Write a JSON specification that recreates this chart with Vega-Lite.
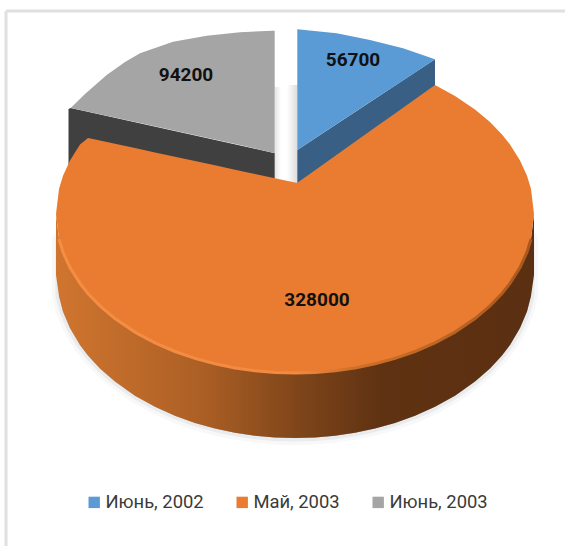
{
  "$schema": "https://vega.github.io/schema/vega-lite/v6.json",
  "width": 565,
  "height": 546,
  "padding": 0,
  "autosize": "none",
  "background": "white",
  "view": {"stroke": null},
  "datasets": {
    "topFaces": [
      {"series": "Июнь, 2003", "x": 70.7, "y": 108, "y2": 108},
      {"series": "Июнь, 2003", "x": 85, "y": 94, "y2": 111.1},
      {"series": "Июнь, 2003", "x": 106.7, "y": 75, "y2": 115.8},
      {"series": "Июнь, 2003", "x": 125, "y": 62, "y2": 119.8},
      {"series": "Июнь, 2003", "x": 140, "y": 53.3, "y2": 123.1},
      {"series": "Июнь, 2003", "x": 173, "y": 41.7, "y2": 130.3},
      {"series": "Июнь, 2003", "x": 206.7, "y": 35.7, "y2": 137.7},
      {"series": "Июнь, 2003", "x": 240, "y": 32.3, "y2": 145},
      {"series": "Июнь, 2003", "x": 272.7, "y": 30.7, "y2": 152.7},
      {"series": "Июнь, 2003", "x": 274.7, "y": 30.7, "y2": 152.7},
      {"series": "Июнь, 2002", "x": 297.3, "y": 29.3, "y2": 150},
      {"series": "Июнь, 2002", "x": 336.7, "y": 33.3, "y2": 124},
      {"series": "Июнь, 2002", "x": 370, "y": 40, "y2": 102.1},
      {"series": "Июнь, 2002", "x": 403, "y": 48.3, "y2": 80.4},
      {"series": "Июнь, 2002", "x": 435, "y": 59.3, "y2": 59.3},
      {"series": "Май, 2003", "x": 56, "y": 214, "y2": 214},
      {"series": "Май, 2003", "x": 59, "y": 188.9, "y2": 239.1},
      {"series": "Май, 2003", "x": 63, "y": 175.8, "y2": 252.2},
      {"series": "Май, 2003", "x": 70, "y": 160.4, "y2": 267.6},
      {"series": "Май, 2003", "x": 80, "y": 144.6, "y2": 283.4},
      {"series": "Май, 2003", "x": 88, "y": 138, "y2": 293.5},
      {"series": "Май, 2003", "x": 100, "y": 140.6, "y2": 305.9},
      {"series": "Май, 2003", "x": 115, "y": 143.8, "y2": 318.6},
      {"series": "Май, 2003", "x": 135, "y": 148.1, "y2": 332.1},
      {"series": "Май, 2003", "x": 155, "y": 152.4, "y2": 342.9},
      {"series": "Май, 2003", "x": 175, "y": 156.7, "y2": 351.5},
      {"series": "Май, 2003", "x": 195, "y": 161, "y2": 358.4},
      {"series": "Май, 2003", "x": 215, "y": 165.3, "y2": 363.8},
      {"series": "Май, 2003", "x": 235, "y": 169.7, "y2": 367.9},
      {"series": "Май, 2003", "x": 255, "y": 174, "y2": 370.8},
      {"series": "Май, 2003", "x": 275, "y": 178.3, "y2": 372.4},
      {"series": "Май, 2003", "x": 295, "y": 182.6, "y2": 373},
      {"series": "Май, 2003", "x": 297, "y": 183, "y2": 373},
      {"series": "Май, 2003", "x": 315, "y": 170.2, "y2": 372.4},
      {"series": "Май, 2003", "x": 335, "y": 156, "y2": 370.8},
      {"series": "Май, 2003", "x": 355, "y": 141.8, "y2": 367.9},
      {"series": "Май, 2003", "x": 375, "y": 127.6, "y2": 363.8},
      {"series": "Май, 2003", "x": 395, "y": 113.4, "y2": 358.4},
      {"series": "Май, 2003", "x": 415, "y": 99.2, "y2": 351.5},
      {"series": "Май, 2003", "x": 435, "y": 85, "y2": 342.9},
      {"series": "Май, 2003", "x": 455, "y": 95.9, "y2": 332.1},
      {"series": "Май, 2003", "x": 475, "y": 109.4, "y2": 318.6},
      {"series": "Май, 2003", "x": 490, "y": 122.1, "y2": 305.9},
      {"series": "Май, 2003", "x": 502, "y": 134.5, "y2": 293.5},
      {"series": "Май, 2003", "x": 510, "y": 144.6, "y2": 283.4},
      {"series": "Май, 2003", "x": 520, "y": 160.4, "y2": 267.6},
      {"series": "Май, 2003", "x": 527, "y": 175.8, "y2": 252.2},
      {"series": "Май, 2003", "x": 531, "y": 188.9, "y2": 239.1},
      {"series": "Май, 2003", "x": 534, "y": 214, "y2": 214}
    ],
    "rim": [
      {"x": 56, "y": 214, "y2": 275},
      {"x": 59, "y": 239.1, "y2": 296},
      {"x": 63, "y": 252.2, "y2": 311.4},
      {"x": 70, "y": 267.6, "y2": 328.1},
      {"x": 80, "y": 283.4, "y2": 344.9},
      {"x": 88, "y": 293.5, "y2": 355.4},
      {"x": 100, "y": 305.9, "y2": 368.5},
      {"x": 115, "y": 318.6, "y2": 381.6},
      {"x": 135, "y": 332.1, "y2": 395.7},
      {"x": 155, "y": 342.9, "y2": 406.8},
      {"x": 175, "y": 351.5, "y2": 415.8},
      {"x": 195, "y": 358.4, "y2": 422.9},
      {"x": 215, "y": 363.8, "y2": 428.5},
      {"x": 235, "y": 367.9, "y2": 432.7},
      {"x": 255, "y": 370.8, "y2": 435.7},
      {"x": 275, "y": 372.4, "y2": 437.4},
      {"x": 295, "y": 373, "y2": 438},
      {"x": 315, "y": 372.4, "y2": 437.4},
      {"x": 335, "y": 370.8, "y2": 435.7},
      {"x": 355, "y": 367.9, "y2": 432.7},
      {"x": 375, "y": 363.8, "y2": 428.5},
      {"x": 395, "y": 358.4, "y2": 422.9},
      {"x": 415, "y": 351.5, "y2": 415.8},
      {"x": 435, "y": 342.9, "y2": 406.8},
      {"x": 455, "y": 332.1, "y2": 395.7},
      {"x": 475, "y": 318.6, "y2": 381.6},
      {"x": 490, "y": 305.9, "y2": 368.5},
      {"x": 502, "y": 293.5, "y2": 355.4},
      {"x": 510, "y": 283.4, "y2": 344.9},
      {"x": 520, "y": 267.6, "y2": 328.1},
      {"x": 527, "y": 252.2, "y2": 311.4},
      {"x": 531, "y": 239.1, "y2": 296},
      {"x": 534, "y": 214, "y2": 275}
    ],
    "graySide": [
      {"x": 68.5, "y": 109, "y2": 165},
      {"x": 70.7, "y": 108, "y2": 165},
      {"x": 272.7, "y": 152.7, "y2": 185},
      {"x": 274.7, "y": 152.7, "y2": 185}
    ],
    "blueSide": [
      {"x": 297.3, "y": 150, "y2": 184},
      {"x": 435, "y": 59.3, "y2": 86}
    ],
    "gapRight": [
      {"x": 287, "y": 85, "y2": 184},
      {"x": 297.3, "y": 85, "y2": 184}
    ],
    "gapLeft": [
      {"x": 274.7, "y": 87, "y2": 180},
      {"x": 281, "y": 87, "y2": 180}
    ],
    "frame": [
      {"x": 6, "x2": 565, "y": 11, "y2": 11},
      {"x": 6, "x2": 6, "y": 11, "y2": 546}
    ],
    "labels": [
      {"series": "Июнь, 2002", "value": 56700, "x": 353, "y": 60},
      {"series": "Май, 2003", "value": 328000, "x": 317, "y": 300},
      {"series": "Июнь, 2003", "value": 94200, "x": 186, "y": 75}
    ]
  },
  "encoding": {
    "x": {"field": "x", "type": "quantitative", "axis": null, "scale": {"domain": [0, 565], "nice": false, "zero": false}},
    "y": {"field": "y", "type": "quantitative", "axis": null, "stack": null, "scale": {"domain": [546, 0], "nice": false, "zero": false}},
    "y2": {"field": "y2"}
  },
  "layer": [
    {
      "data": {"name": "frame"},
      "mark": {"type": "rule", "color": "#e0e0e0", "strokeWidth": 3},
      "encoding": {"x2": {"field": "x2"}}
    },
    {
      "data": {"name": "rim"},
      "transform": [{"filter": "datum.x > 57 && datum.x < 533"}],
      "mark": {"type": "area", "color": "#b9bec5", "stroke": "#b9bec5", "strokeWidth": 14, "strokeOpacity": 0.1, "strokeJoin": "round"}
    },
    {
      "data": {"name": "rim"},
      "transform": [{"filter": "datum.x > 57 && datum.x < 533"}],
      "mark": {"type": "area", "color": "#b9bec5", "stroke": "#b9bec5", "strokeWidth": 7, "strokeOpacity": 0.22, "strokeJoin": "round"}
    },
    {
      "data": {"name": "gapRight"},
      "mark": {"type": "area", "color": {"gradient": "linear", "x1": 0, "x2": 1, "y1": 0, "y2": 0, "stops": [{"offset": 0, "color": "#ffffff"}, {"offset": 1, "color": "#dcdcdc"}]}}
    },
    {
      "data": {"name": "gapLeft"},
      "mark": {"type": "area", "color": {"gradient": "linear", "x1": 0, "x2": 1, "y1": 0, "y2": 0, "stops": [{"offset": 0, "color": "#e4e4e4"}, {"offset": 1, "color": "#ffffff"}]}}
    },
    {"data": {"name": "graySide"}, "mark": {"type": "area", "color": "#404040"}},
    {"data": {"name": "blueSide"}, "mark": {"type": "area", "color": "#395f84"}},
    {
      "data": {"name": "rim"},
      "mark": {"type": "area", "color": {"gradient": "linear", "x1": 0, "x2": 1, "y1": 0, "y2": 0, "stops": [
        {"offset": 0, "color": "#d0752f"},
        {"offset": 0.3, "color": "#ad6025"},
        {"offset": 0.5, "color": "#80461a"},
        {"offset": 0.68, "color": "#5f3212"},
        {"offset": 1, "color": "#5b2f11"}
      ]}}
    },
    {
      "data": {"name": "topFaces"},
      "mark": {"type": "area"},
      "encoding": {
        "color": {
          "field": "series",
          "type": "nominal",
          "scale": {"domain": ["Июнь, 2002", "Май, 2003", "Июнь, 2003"], "range": ["#5b9bd5", "#e97c30", "#a5a5a5"]},
          "legend": {
            "title": null,
            "orient": "none",
            "direction": "horizontal",
            "legendX": 85,
            "legendY": 493,
            "symbolType": "square",
            "symbolSize": 130,
            "symbolOpacity": 1,
            "columnPadding": 29,
            "labelOffset": 2,
            "labelFont": "Roboto",
            "labelFontSize": 18.4,
            "labelColor": "#3a3a3a",
            "labelLimit": 200
          }
        }
      }
    },
    {
      "data": {"name": "rim"},
      "transform": [{"filter": "datum.x > 57 && datum.x < 533"}],
      "mark": {"type": "line", "strokeWidth": 3, "color": {"gradient": "linear", "x1": 0, "x2": 1, "y1": 0, "y2": 0, "stops": [
        {"offset": 0, "color": "#f58d45"},
        {"offset": 0.5, "color": "#f28a42"},
        {"offset": 0.62, "color": "#cf7029"},
        {"offset": 1, "color": "#a9591f"}
      ]}},
      "encoding": {"y2": null}
    },
    {
      "data": {"name": "labels"},
      "mark": {"type": "text", "font": "Roboto", "fontWeight": "bold", "fontSize": 19, "color": "#111111", "align": "center", "baseline": "middle"},
      "encoding": {
        "y2": null,
        "text": {"field": "value", "type": "quantitative", "format": "d"}
      }
    }
  ],
  "config": {"style": {"cell": {"stroke": null}}}
}
